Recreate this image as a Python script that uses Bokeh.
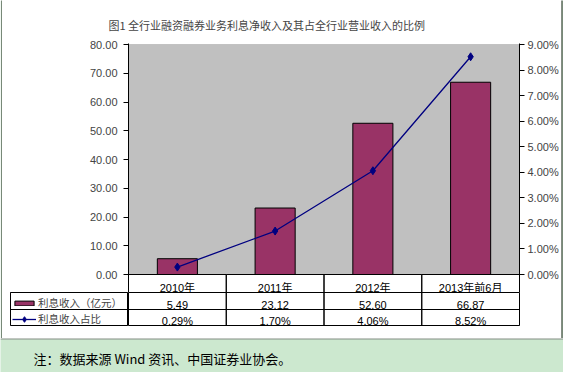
from bokeh.plotting import figure
from bokeh.models import (FactorRange, Range1d, LinearAxis, FixedTicker, NumeralTickFormatter,
                          BoxAnnotation, Legend, LegendItem)
from bokeh.layouts import column, row
from bokeh.embed import file_html
from bokeh.resources import INLINE
from bokeh.core.properties import value

# ---------------- data ----------------
categories = ["2010年", "2011年", "2012年", "2013年前6月"]
income = [5.49, 23.12, 52.60, 66.87]            # 利息收入（亿元）
share = [0.0029, 0.0170, 0.0406, 0.0852]        # 利息收入占比
left_ticks = [0, 10, 20, 30, 40, 50, 60, 70, 80]
right_ticks = [0.0, 0.01, 0.02, 0.03, 0.04, 0.05, 0.06, 0.07, 0.08, 0.09]
series_names = ["利息收入（亿元）", "利息收入占比"]
title_text = "图1 全行业融资融券业务利息净收入及其占全行业营业收入的比例"
note_text = "注：数据来源 Wind 资讯、中国证券业协会。"

# ---------------- style / layout constants ----------------
BAR = "#993366"
LINE = "#000080"
PLOT_BG = "#C0C0C0"
NOTE_BG = "#CCE8CF"
EDGE = "#0A1F0A"
CJK = "Noto Sans CJK SC"
LAT = "Liberation Sans, Noto Sans CJK SC"

TOTAL_W = 563
INNER_W = TOTAL_W - 4          # between the two 2px edge strips
BORDER_L = 126
FRAME_W = 391
BORDER_R = INNER_W - BORDER_L - FRAME_W
PLOT_PX = 230.0                # pixel height of 0..80
LMAX = 80.0
RMAX = 0.09
PX = PLOT_PX / LMAX
CAT_ROW = 18
TOP = 43
A_H = TOP + 1 + int(PLOT_PX) + CAT_ROW   # 292
B_H = 46
BOX_H = A_H + B_H                         # 338
NOTE_H = 372 - BOX_H                      # 34

y_start = -CAT_ROW / PX
y_end = LMAX + 1 / PX

def base(**kw):
    kw.setdefault("output_backend", "svg")
    kw.setdefault("toolbar_location", None)
    kw.setdefault("frame_align", False)
    return figure(**kw)

# ---------------- main chart ----------------
p = base(width=INNER_W, height=A_H, x_range=FactorRange(*categories),
         y_range=Range1d(y_start, y_end),
         x_axis_location=None, y_axis_location="left",
         min_border_left=BORDER_L, min_border_right=BORDER_R,
         min_border_top=TOP, min_border_bottom=0,
         background_fill_color="white", border_fill_color="white",
         outline_line_color=None)
p.grid.visible = False

p.title.text = title_text
p.title.align = "left"
p.title.offset = -20
p.title.text_font = CJK
p.title.text_font_size = "11px"
p.title.text_font_style = "normal"
p.title.padding = {"left": 0, "right": 0, "top": 0, "bottom": 6}

ya = p.yaxis[0]
ya.ticker = FixedTicker(ticks=left_ticks)
ya.formatter = NumeralTickFormatter(format="0.00")
ya.major_label_text_font = LAT
ya.major_label_text_font_size = "11px"
ya.major_tick_out = 5
ya.major_tick_in = 0
ya.minor_tick_line_color = None
ya.axis_line_color = "black"
ya.major_label_standoff = 6

p.extra_y_ranges = {"pct": Range1d(y_start * RMAX / LMAX, y_end * RMAX / LMAX)}
ra = LinearAxis(y_range_name="pct", ticker=FixedTicker(ticks=right_ticks),
                formatter=NumeralTickFormatter(format="0.00%"))
ra.major_label_text_font = LAT
ra.major_label_text_font_size = "11px"
ra.major_tick_out = 5
ra.major_tick_in = 0
ra.minor_tick_line_color = None
ra.axis_line_color = "black"
ra.major_label_standoff = 3
p.add_layout(ra, "right")

p.add_layout(BoxAnnotation(bottom=0, top=LMAX, fill_color=PLOT_BG, fill_alpha=1,
                           line_color="#808080", line_width=1, level="underlay"))

p.vbar(x=categories, top=income, width=0.41, fill_color=BAR, line_color="black", line_width=1)

n = len(categories)
cell_h = (CAT_ROW + 3) / PX
p.rect(x=categories, y=[-cell_h / 2] * n, width=1, height=cell_h,
       fill_color=None, line_color="black", line_width=1)
p.text(x=categories, y=[-CAT_ROW / PX / 2] * n, text=categories,
       text_align="center", text_baseline="middle", y_offset=4,
       text_font=value(LAT), text_font_size="11px", text_color="black")

p.line(x=categories, y=share, y_range_name="pct", line_color=LINE, line_width=1.3)
p.scatter(x=categories, y=share, y_range_name="pct", marker="diamond", size=8,
          fill_color=LINE, line_color=LINE)

# ---------------- data table ----------------
ROW_H = [17, 16]
TABLE_H = sum(ROW_H)
row_centers = [ROW_H[0] / 2, ROW_H[0] + ROW_H[1] / 2]
val_text = [f"{v:.2f}" for v in income]
pct_text = [f"{s * 100:.2f}%" for s in share]

t = base(width=INNER_W - BORDER_L, height=B_H, x_range=p.x_range, y_range=Range1d(TABLE_H, 0),
         x_axis_location=None, y_axis_location=None,
         min_border_left=0, min_border_right=BORDER_R, min_border_top=0,
         min_border_bottom=B_H - TABLE_H,
         background_fill_color="white", border_fill_color="white",
         outline_line_color="black")
t.grid.visible = False
t.rect(x=categories * 2, y=[row_centers[0]] * n + [row_centers[1]] * n, width=1,
       height=[ROW_H[0]] * n + [ROW_H[1]] * n, fill_color=None, line_color="black")
t.text(x=categories * 2, y=[row_centers[0]] * n + [row_centers[1]] * n,
       text=val_text + pct_text, text_align="center", text_baseline="middle", y_offset=3.5,
       text_font=value(LAT), text_font_size="11px", text_color="black")

LEG_PAD = 8
LEG_W = BORDER_L - LEG_PAD
lg = base(width=BORDER_L, height=B_H, x_range=Range1d(0, LEG_W), y_range=Range1d(TABLE_H, 0),
          x_axis_location=None, y_axis_location=None,
          min_border_left=LEG_PAD, min_border_right=0, min_border_top=0,
          min_border_bottom=B_H - TABLE_H,
          background_fill_color="white", border_fill_color="white",
          outline_line_color="black")
lg.grid.visible = False
lg.rect(x=[LEG_W / 2] * 2, y=row_centers, width=LEG_W, height=ROW_H,
        fill_color=None, line_color="black")
# legend proxies: same styles as the chart series, kept outside the visible range
OFF = -1000
rb = lg.vbar(x=[OFF], top=[1], width=1, fill_color=BAR, line_color="black")
rl = lg.line(x=[OFF, OFF + 1], y=[1, 1], line_color=LINE, line_width=1.3)
rs = lg.scatter(x=[OFF], y=[1], marker="diamond", size=8, fill_color=LINE, line_color=LINE)

common = dict(padding=0, spacing=0, margin=0, border_line_color=None, background_fill_alpha=0,
              label_text_font=CJK, label_text_font_size="10.5px", label_standoff=2,
              glyph_width=24, label_height=14)
leg1 = Legend(items=[LegendItem(label=series_names[0], renderers=[rb])],
              location=(2, 15), glyph_height=6, **common)
leg2 = Legend(items=[LegendItem(label=series_names[1], renderers=[rl, rs])],
              location=(2, -1), glyph_height=14, **common)
lg.add_layout(leg1)
lg.add_layout(leg2)

# ---------------- outer frame edges ----------------
def edge(left):
    return base(width=2, height=BOX_H, x_axis_location=None, y_axis_location=None,
                min_border_left=1 if left else 0, min_border_right=0 if left else 1,
                min_border_top=0, min_border_bottom=0,
                background_fill_color=EDGE, border_fill_color=NOTE_BG,
                outline_line_color=None)

eL = edge(True)
eR = edge(False)

# ---------------- note ----------------
c = base(width=TOTAL_W, height=NOTE_H, x_range=Range1d(0, TOTAL_W), y_range=Range1d(NOTE_H - 1, 0),
         x_axis_location=None, y_axis_location=None,
         min_border_left=0, min_border_right=0, min_border_top=1, min_border_bottom=0,
         background_fill_color=NOTE_BG, border_fill_color=EDGE,
         outline_line_color=None)
c.grid.visible = False
c.text(x=[33], y=[19], text=[note_text], text_align="left", text_baseline="middle",
       text_font=value(CJK), text_font_size="13px", text_color="black")

layout = column(row(eL, column(p, row(lg, t)), eR), c)
open("out.html", "w").write(file_html(layout, INLINE))
